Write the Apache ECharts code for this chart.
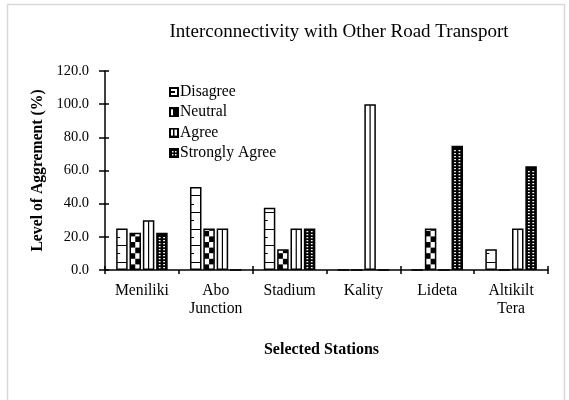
<!DOCTYPE html>
<html>
<head>
<meta charset="utf-8">
<script src="https://cdn.jsdelivr.net/npm/echarts@6/dist/echarts.min.js"></script>
<style>html,body{margin:0;padding:0;background:#fff}#c{width:569px;height:400px}</style>
</head>
<body>
<div id="c"></div>
<script>
const categories = ['Meniliki', 'Abo Junction', 'Stadium', 'Kality', 'Lideta', 'Altikilt Tera'];
const seriesNames = ['Disagree', 'Neutral', 'Agree', 'Strongly Agree'];
const disagree = [25, 50, 37.5, 0, 0, 12.5];
const neutral = [22.5, 25, 12.5, 0, 25, 0];
const agree = [30, 25, 25, 100, 0, 25];
const stronglyAgree = [22.5, 0, 25, 0, 75, 62.5];
const yMin = 0, yMax = 120, yStep = 20;

const FONT = "'Liberation Serif', 'Times New Roman', serif";
const BW = 11.5, GAP = 0.16;

function makeIcon(draw) {
  const c = document.createElement('canvas');
  c.width = 10; c.height = 10;
  const g = c.getContext('2d');
  g.fillStyle = '#fff'; g.fillRect(0, 0, 10, 10);
  draw(g);
  g.strokeStyle = '#000'; g.lineWidth = 2; g.strokeRect(1, 1, 8, 8);
  return 'image://' + c.toDataURL();
}
const icons = [
  makeIcon(g => { g.fillStyle = '#000'; g.fillRect(2, 4, 4, 2); }),
  makeIcon(g => { g.fillStyle = '#000'; g.fillRect(0, 0, 10, 10); g.fillStyle = '#fff'; g.fillRect(2, 2, 2, 6); }),
  makeIcon(g => { g.fillStyle = '#000'; g.fillRect(4, 1, 1.5, 8); }),
  makeIcon(g => { g.fillStyle = '#000'; g.fillRect(0, 0, 10, 10); g.fillStyle = '#fff'; g.fillRect(3, 3, 1.5, 1.5); g.fillRect(6, 3, 1.5, 1.5); g.fillRect(3, 6, 1.5, 1.5); g.fillRect(6, 6, 1.5, 1.5); })
];

const decoData = categories.map((c, i) => [i, disagree[i], neutral[i], agree[i], stronglyAgree[i]]);

function renderDeco(params, api) {
  const i = api.value(0);
  const base = api.coord([i, 0]);
  const cx = base[0], yb = base[1];
  const pitch = BW * (1 + GAP);
  const total = BW * 4 + BW * GAP * 3;
  const children = [];
  const line = (x1, y1, x2, y2, w) => children.push({type: 'line', shape: {x1, y1, x2, y2}, style: {stroke: '#000', lineWidth: w || 1}});
  const rect = (x, y, width, height, fill) => children.push({type: 'rect', shape: {x, y, width, height}, style: {fill}});
  for (let k = 0; k < 4; k++) {
    const v = api.value(k + 1);
    if (!v) continue;
    const x = cx - total / 2 + k * pitch;
    const yt = api.coord([i, v])[1];
    const L = x + 1, R = x + BW - 1;
    if (k === 0) {
      for (let j = 1; 5 * j < v - 1.5; j++) {
        const y = Math.round(api.coord([i, 5 * j])[1]) + 0.5;
        if (j % 2 === 1) line(L, y, R, y, 1);
        else line(L, y, L + 3, y, 1);
      }
    } else if (k === 1) {
      const h = 5.6;
      for (let r = 0; ; r++) {
        const y2 = yb - r * h;
        if (y2 <= yt + 1) break;
        const y1 = Math.max(yt + 1, y2 - h);
        if (r % 2 === 0) rect(L, y1, x + BW / 2 - L, y2 - y1, '#000');
        else rect(x + BW / 2, y1, R - (x + BW / 2), y2 - y1, '#000');
      }
    } else if (k === 2) {
      line(x + BW / 2, yb, x + BW / 2, yt + 1, 1.2);
    } else {
      for (let y = yb - 3; y > yt + 2; y -= 3) {
        rect(x + 2.6, y, 1.8, 1.3, '#fff');
        rect(x + 7, y, 1.8, 1.3, '#fff');
      }
    }
  }
  return {type: 'group', children};
}

const chart = echarts.init(document.getElementById('c'), null, {renderer: 'canvas'});
const barStyle = (fill) => ({color: fill, borderColor: '#000', borderWidth: 1.5});
const values = [disagree, neutral, agree, stronglyAgree];
const fills = ['#fff', '#fff', '#fff', '#000'];

chart.setOption({
  animation: false,
  backgroundColor: '#fff',
  textStyle: {fontFamily: FONT},
  title: {
    text: 'Interconnectivity with Other Road Transport',
    left: 334, top: 18, textAlign: 'center',
    textStyle: {fontFamily: FONT, fontSize: 19, fontWeight: 'normal', color: '#000'}
  },
  graphic: [{
    type: 'rect', silent: true, z: -10,
    shape: {x: 7.5, y: 4.5, width: 557, height: 430},
    style: {fill: 'none', stroke: '#d9d9d9', lineWidth: 1.5}
  }],
  legend: {
    orient: 'vertical', left: 164, top: 78,
    itemWidth: 10, itemHeight: 10, itemGap: 2.3,
    data: seriesNames.map((n, k) => ({name: n, icon: icons[k]})),
    textStyle: {fontFamily: FONT, fontSize: 15.7, color: '#000', lineHeight: 18, padding: [0, 0, 0, -4]}
  },
  grid: {left: 105, right: 21, top: 71, bottom: 130, containLabel: false},
  xAxis: [{
    type: 'category', data: categories, position: 'bottom',
    name: 'Selected Stations', nameLocation: 'middle', nameGap: 72,
    nameTextStyle: {fontFamily: FONT, fontSize: 16, fontWeight: 'bold', color: '#000', padding: [0, 10, 0, 0]},
    axisLine: {lineStyle: {color: '#000', width: 1.5}},
    axisTick: {show: true, inside: false, length: 4, lineStyle: {color: '#000', width: 1.5}},
    axisLabel: {
      color: '#000', fontFamily: FONT, fontSize: 15.7, lineHeight: 18, margin: 12,
      formatter: v => v.replace(' ', '\n')
    },
    splitLine: {show: false}
  }, {
    type: 'category', data: categories, position: 'bottom', offset: 0,
    axisLine: {show: false},
    axisTick: {show: true, inside: true, length: 4, lineStyle: {color: '#000', width: 1.5}},
    axisLabel: {show: false}, splitLine: {show: false}
  }],
  yAxis: [{
    type: 'value', min: yMin, max: yMax, interval: yStep, position: 'left',
    name: 'Level of Aggrement (%)', nameLocation: 'middle', nameGap: 57,
    nameTextStyle: {fontFamily: FONT, fontSize: 15.7, fontWeight: 'bold', color: '#000'},
    axisLine: {show: true, lineStyle: {color: '#000', width: 1.5}},
    axisTick: {show: true, inside: false, length: 6, lineStyle: {color: '#000', width: 1.5}},
    axisLabel: {color: '#000', fontFamily: FONT, fontSize: 14.5, margin: 16, formatter: v => v.toFixed(1)},
    splitLine: {show: false}
  }, {
    type: 'value', min: yMin, max: yMax, interval: yStep, position: 'left', offset: 0,
    axisLine: {show: false},
    axisTick: {show: true, inside: true, length: 4, lineStyle: {color: '#000', width: 1.5}},
    axisLabel: {show: false}, splitLine: {show: false}
  }],
  series: seriesNames.map((n, k) => ({
    name: n, type: 'bar', xAxisIndex: 0, yAxisIndex: 0,
    barWidth: BW, barGap: (GAP * 100) + '%',
    data: values[k],
    itemStyle: barStyle(fills[k]),
    emphasis: {disabled: true}
  })).concat([{
    type: 'custom', name: 'deco', xAxisIndex: 0, yAxisIndex: 0,
    renderItem: renderDeco, data: decoData, z: 5, silent: true,
    encode: {x: 0, y: 1}
  }])
});
</script>
</body>
</html>
